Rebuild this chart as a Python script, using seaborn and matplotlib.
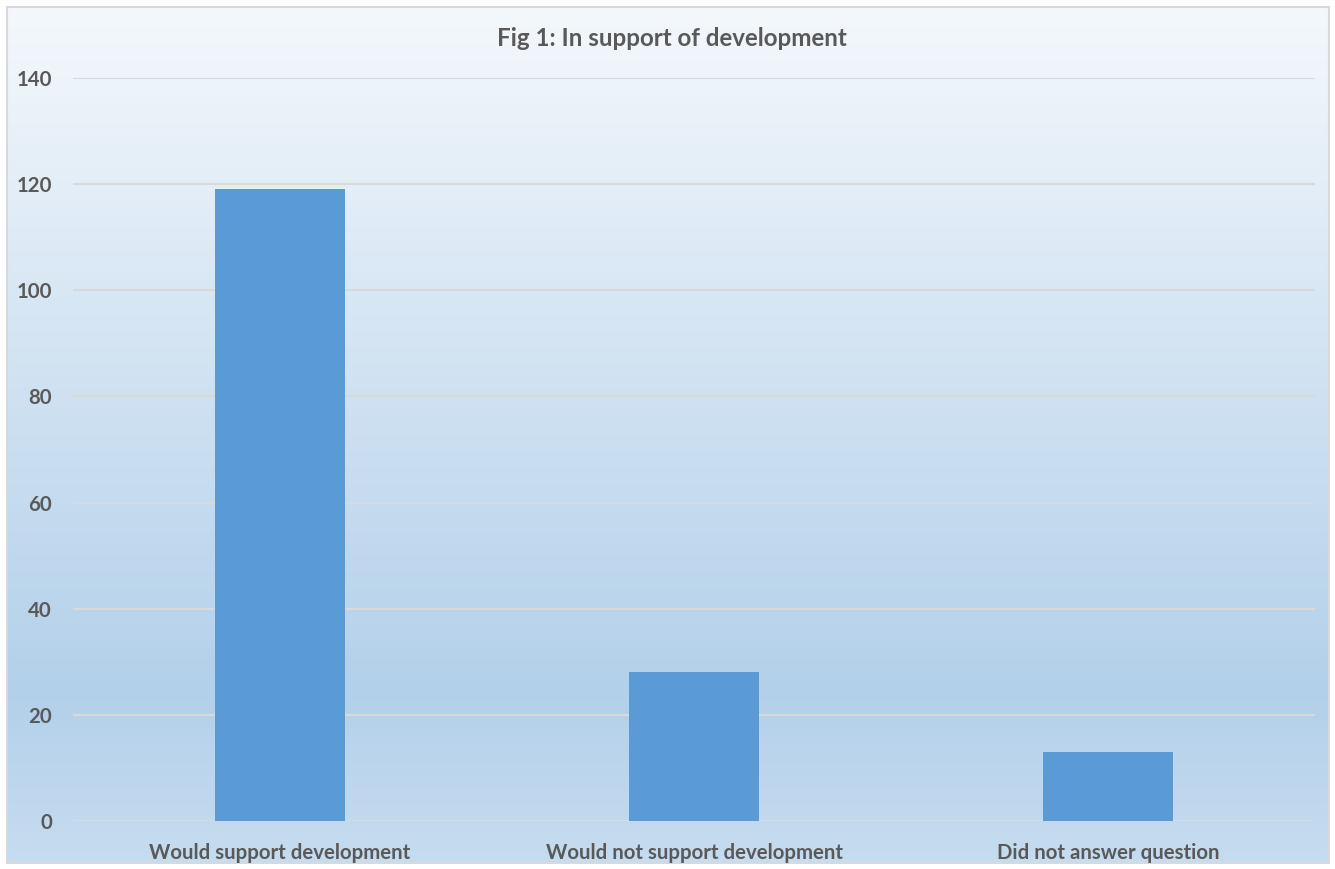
import numpy as np
import matplotlib
matplotlib.use("Agg")
import matplotlib.pyplot as plt
from matplotlib.colors import LinearSegmentedColormap
from matplotlib.patches import Rectangle
import seaborn as sns
import pandas as pd

categories = ["Would support development", "Would not support development", "Did not answer question"]
values = [119, 28, 13]
yticks = [0, 20, 40, 60, 80, 100, 120, 140]
title = "Fig 1: In support of development"

sns.set_theme(style="white")
plt.rcParams['font.family'] = ['Lato', 'DejaVu Sans']

W, H = 1335, 869
fig = plt.figure(figsize=(W / 100, H / 100), dpi=100)

# background gradient
bg = fig.add_axes([0, 0, 1, 1], zorder=-1)
bg.set_xlim(0, W)
bg.set_ylim(H, 0)
bg.axis("off")
cmap = LinearSegmentedColormap.from_list(
    "bg", [(0, "#f4f8fc"), (0.8, "#b3d0ea"), (1.0, "#c6dcf0")])
grad = np.linspace(0, 1, 256).reshape(-1, 1)
bg.imshow(grad, cmap=cmap, aspect="auto", extent=[7, 1329, 863, 7], zorder=0)
bg.add_patch(Rectangle((7, 7), 1322, 856, fill=False, edgecolor="#d9d9d9", lw=1.5, zorder=1))

ax = fig.add_axes([73 / W, (H - 821) / H, (1315 - 73) / W, (821 - 78) / H])
ax.set_facecolor("none")
df = pd.DataFrame({"cat": categories, "val": values})
sns.barplot(data=df, x="cat", y="val", color="#5b9bd5", saturation=1, width=0.314,
            linewidth=0, ax=ax, zorder=3)
ax.set_ylim(0, 140)
ax.set_xlim(-0.5, 2.5)
ax.set_yticks(yticks)
ax.set_yticklabels([str(t) for t in yticks])
ax.grid(axis="y", color="#d9d9d9", lw=1.5, zorder=0)
ax.set_axisbelow(True)
for s in ax.spines.values():
    s.set_visible(False)
ax.tick_params(axis="both", length=0, colors="#595959", labelsize=14.7)
ax.tick_params(axis="y", pad=15)
ax.tick_params(axis="x", pad=16)
for lab in ax.get_xticklabels() + ax.get_yticklabels():
    lab.set_fontweight("bold")
ax.set_xlabel("")
ax.set_ylabel("")
fig.text(672 / W, 1 - 39 / H, title, ha="center", va="center",
         fontsize=17.4, fontweight="bold", color="#595959")

fig.savefig("out.png", dpi=100)
